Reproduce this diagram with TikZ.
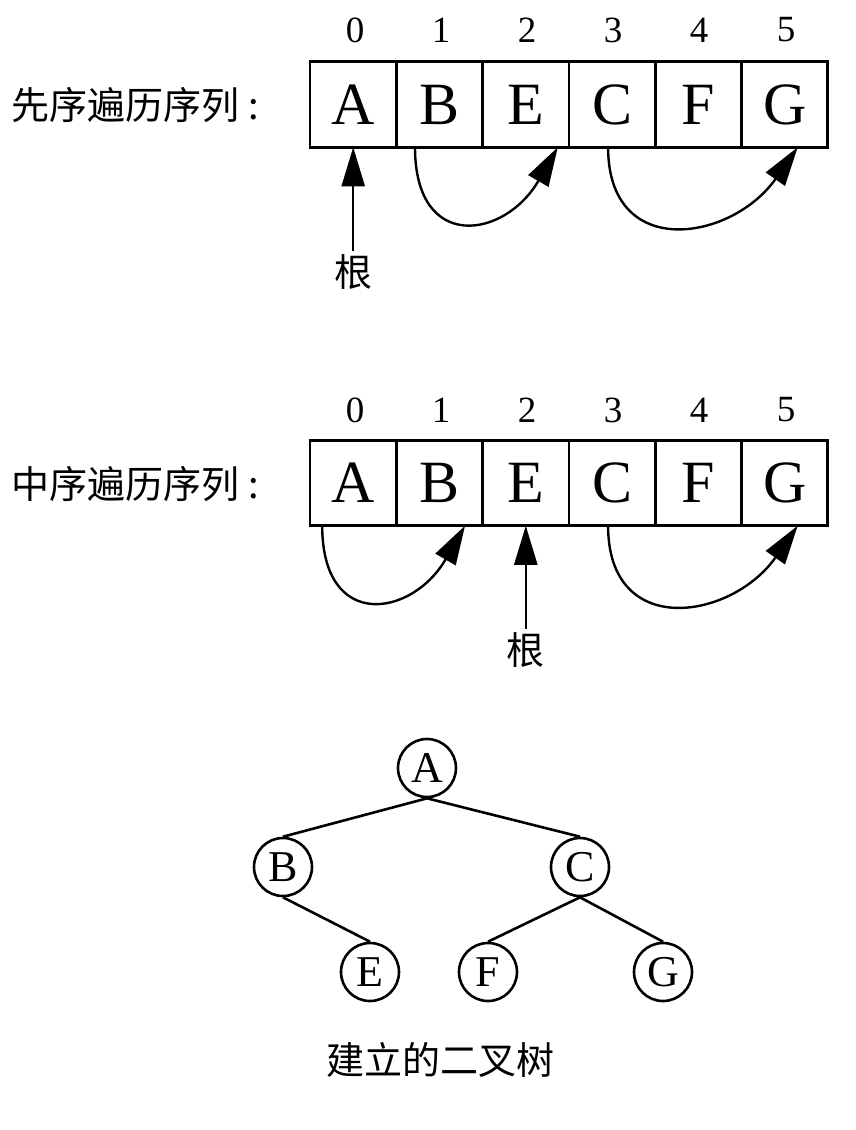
\documentclass[tikz,border=0pt]{standalone}
\usepackage{fontspec}
\setmainfont{Liberation Serif}
\newfontfamily\cjk{Noto Sans CJK SC}
\usetikzlibrary{arrows.meta}

\begin{document}
\begin{tikzpicture}[x=1pt,y=-1pt,
    cell/.style={rectangle,draw,line width=2.8pt,inner sep=0pt,outer sep=0pt,
      minimum width=86.3pt,minimum height=85.5pt,
      font=\fontsize{60}{60}\selectfont},
    idx/.style={font=\fontsize{37}{37}\selectfont},
    cjktext/.style={font=\cjk\fontsize{38}{38}\selectfont},
    tnode/.style={circle,draw,line width=2.6pt,minimum size=58pt,inner sep=0pt,
      font=\fontsize{44}{44}\selectfont},
    edge/.style={line width=2.6pt},
    jump/.style={line width=2.4pt,-{Triangle[length=39pt,width=23pt]}}]
  \useasboundingbox (0,0) rectangle (855,1130);

  % preorder
  \node[cjktext,anchor=west] (prelabel) at (8,105) {先序遍历序列\hspace{9pt}:};
  \node[cell] (pa) at (353.2,104.5) {A};
  \node[cell] (pb) at (439.5,104.5) {B};
  \node[cell] (pe) at (525.8,104.5) {E};
  \node[cell] (pc) at (612.1,104.5) {C};
  \node[cell] (pf) at (698.4,104.5) {F};
  \node[cell] (pg) at (784.7,104.5) {G};
  \node[idx] (pnum0) at (355,30) {0};
  \node[idx] (pnum1) at (441,30) {1};
  \node[idx] (pnum2) at (527,30) {2};
  \node[idx] (pnum3) at (613,30) {3};
  \node[idx] (pnum4) at (699,30) {4};
  \node[idx] (pnum5) at (786,30) {5};

  \node[cjktext] (proot) at (353.2,272) {根};
  \draw[jump] (proot) -- (pa);
  \draw[jump] ([xshift=-24.5pt]pb.south) to[out=-90,in=-120,looseness=1.9]
    ([xshift=32pt]pe.south);
  \draw[jump] ([xshift=-4pt]pc.south) to[out=-90,in=-125,looseness=1.55]
    ([xshift=13pt]pg.south);

  % inorder
  \node[cjktext,anchor=west] (inlabel) at (8,484) {中序遍历序列\hspace{9pt}:};
  \node[cell] (ia) at (353.2,483) {A};
  \node[cell] (ib) at (439.5,483) {B};
  \node[cell] (ie) at (525.8,483) {E};
  \node[cell] (ic) at (612.1,483) {C};
  \node[cell] (if) at (698.4,483) {F};
  \node[cell] (ig) at (784.7,483) {G};
  \node[idx] (inum0) at (355,410) {0};
  \node[idx] (inum1) at (441,410) {1};
  \node[idx] (inum2) at (527,410) {2};
  \node[idx] (inum3) at (613,410) {3};
  \node[idx] (inum4) at (699,410) {4};
  \node[idx] (inum5) at (786,410) {5};

  \node[cjktext] (iroot) at (525.8,650) {根};
  \draw[jump] (iroot) -- (ie);
  \draw[jump] ([xshift=-31pt]ia.south) to[out=-90,in=-120,looseness=1.9]
    ([xshift=25.5pt]ib.south);
  \draw[jump] ([xshift=-4pt]ic.south) to[out=-90,in=-125,looseness=1.55]
    ([xshift=13pt]ig.south);

  % tree
  \node[tnode] (ta) at (427,768) {A};
  \node[tnode] (tb) at (283,867) {B};
  \node[tnode] (tc) at (580,867) {C};
  \node[tnode] (te) at (370,972) {E};
  \node[tnode] (tf) at (488,972) {F};
  \node[tnode] (tg) at (663,972) {G};
  \draw[edge] (ta.south) -- (tb.north);
  \draw[edge] (ta.south) -- (tc.north);
  \draw[edge] (tb.south) -- (te.north);
  \draw[edge] (tc.south) -- (tf.north);
  \draw[edge] (tc.south) -- (tg.north);

  \node[cjktext] (caption) at (440,1060) {建立的二叉树};
\end{tikzpicture}
\end{document}
